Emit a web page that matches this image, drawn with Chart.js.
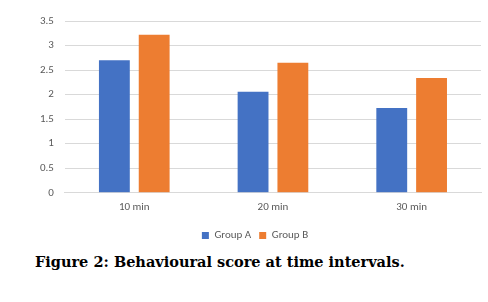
<!DOCTYPE html>
<html>
<head>
<meta charset="utf-8">
<script src="https://cdn.jsdelivr.net/npm/chart.js@4/dist/chart.umd.min.js"></script>
<style>
  html, body { margin: 0; padding: 0; background: #fff; }
  #wrap { position: relative; width: 488px; height: 251px; }
  #caption {
    position: absolute; left: 35px; top: 253px;
    font-family: "DejaVu Serif", serif; font-weight: bold; font-size: 14.5px;
    color: #000; white-space: nowrap;
  }
</style>
</head>
<body>
<div id="wrap"><canvas id="barChart"></canvas></div>
<div id="caption">Figure 2: Behavioural score at time intervals.</div>
<script>
var categories = ['10 min', '20 min', '30 min'];
var groupA = [2.70, 2.06, 1.73];
var groupB = [3.22, 2.65, 2.34];
var yTicks = [0, 0.5, 1, 1.5, 2, 2.5, 3, 3.5];

var ctx = document.getElementById('barChart').getContext('2d');
new Chart(ctx, {
    type: 'bar',
    data: {
        labels: categories,
        datasets: [
            { label: 'Group A', data: groupA, backgroundColor: '#4472C4' },
            { label: 'Group B', data: groupB, backgroundColor: '#ED7D31' }
        ]
    },
    options: {
        responsive: true,
        maintainAspectRatio: false,
        animation: false,
        datasets: {
            bar: { categoryPercentage: 0.574, barPercentage: 0.775 }
        },
        layout: { padding: { top: 21, right: 7, left: 29, bottom: 0 } },
        plugins: {
            legend: {
                position: 'bottom',
                labels: {
                    boxWidth: 7, boxHeight: 7, padding: 8,
                    color: '#595959',
                    font: { family: 'Carlito, "Liberation Sans", sans-serif', size: 11 }
                }
            },
            tooltip: { enabled: false }
        },
        scales: {
            x: {
                grid: { display: false, drawTicks: false },
                border: { color: '#D9D9D9' },
                ticks: {
                    color: '#595959', padding: 8,
                    font: { family: 'Carlito, "Liberation Sans", sans-serif', size: 11 }
                }
            },
            y: {
                min: 0, max: 3.5,
                afterBuildTicks: function (axis) {
                    axis.ticks = yTicks.map(function (v) { return { value: v }; });
                },
                grid: { color: '#D9D9D9', drawTicks: false },
                border: { display: false },
                ticks: {
                    color: '#595959', padding: 11,
                    font: { family: 'Carlito, "Liberation Sans", sans-serif', size: 11 },
                    callback: function (v) { return String(v); }
                }
            }
        }
    }
});
</script>
</body>
</html>
